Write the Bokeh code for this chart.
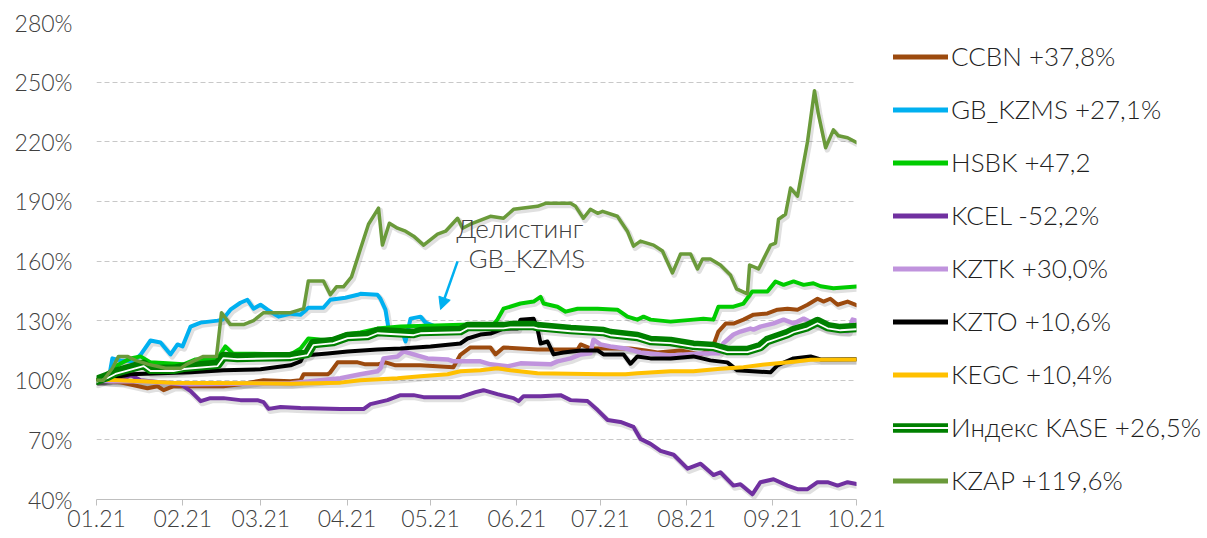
from bokeh.plotting import figure
from bokeh.layouts import row
from bokeh.models import FixedTicker, PrintfTickFormatter, Legend, LegendItem, Arrow, NormalHead
from bokeh.core.properties import value
from bokeh.embed import file_html
from bokeh.resources import INLINE

# ---- axis data -------------------------------------------------------------
month_ticks = [0, 31, 59, 90, 120, 151, 181, 212, 243, 273]   # days since 01.01.2021
month_labels = ["01.21", "02.21", "03.21", "04.21", "05.21", "06.21",
                "07.21", "08.21", "09.21", "10.21"]
y_ticks = [40, 70, 100, 130, 160, 190, 220, 250, 280]

# ---- series (x = days since 01.01.2021, y = % of start) ---------------------
ccbn_days = [0, 8.6, 18.3, 21.9, 24.1, 27.7, 33.8, 45.6, 51.7, 60, 69.7, 73.3, 74.4, 83, 84, 86.6,
             93.8, 96.6, 100.9, 103.8, 107.4, 116.4, 128.2, 130.7, 134.3, 141.5, 143.3, 146.2,
             158.4, 172.8, 173.9, 177.4, 191.8, 197.2, 201.5, 209.8, 217, 221.3, 223.4, 226,
             228.8, 232.4, 236, 241, 244.6, 248.2, 251.8, 255.4, 259, 261.1, 263.6, 266.2, 269.8, 273]
ccbn_vals = [100, 99, 96, 97, 95, 97, 97, 97, 98, 100, 99.5, 100, 103, 103, 104, 109,
             109, 108, 108, 109, 107.5, 107.5, 106.5, 112.8, 116.5, 116.5, 113, 116.5,
             115.5, 115.5, 118, 116, 116, 115, 114, 115, 113, 116.5, 124.5, 128.5,
             128.5, 130.5, 133, 133.6, 135.5, 136, 135.5, 138, 141, 139.6, 141, 138, 139.6, 137.8]

gb_days = [0, 4.3, 5.7, 8.6, 13.3, 15.8, 19.4, 23, 26.6, 29.1, 30.9, 33.8, 37.4, 43.5, 45.3, 48.1,
           51.7, 54.2, 56.4, 58.9, 61.4, 65.4, 69.7, 73.3, 76.1, 81.5, 84, 89.4, 93.8, 94.8,
           100.9, 102, 103.8, 104.9, 106.7, 109.9, 111, 112.8, 116.4, 118.2, 122.8]
gb_vals = [100, 100, 111, 110, 109.5, 112.8, 120, 119, 113, 118, 117, 127, 129, 130, 130.5, 135.5,
           139, 140.5, 136, 138, 135.5, 132, 133.5, 133, 136.5, 136.5, 140.5, 141.5, 143, 143.5,
           143, 141, 135.5, 126, 125.5, 124.5, 119.5, 131, 132, 129, 126.5]

hsbk_days = [0, 4, 6.8, 12.2, 15.8, 19.4, 31.3, 35.6, 43.5, 46.3, 48.9, 69.7, 73.3, 76.1, 84, 89.4,
             94.8, 100.9, 109.2, 134.3, 142.6, 144, 146.2, 152.3, 157, 159.5, 160.6, 165.6, 168.5,
             172.8, 180, 187.1, 190.7, 194.3, 196.5, 199, 206.2, 214.4, 218, 221.6, 223.4, 228.8,
             232.4, 235.6, 241, 243.9, 246.8, 250.4, 254, 257.5, 260.1, 264.7, 273]
hsbk_vals = [100, 101, 107, 111, 112, 109, 108, 110.5, 111, 117, 113.5, 113, 116, 121, 120, 123,
             124, 126, 127, 128, 128, 130.5, 136, 138.6, 139.6, 142, 138.6, 137, 134.5,
             136, 136, 135.5, 132, 130.5, 132, 130.5, 129.5, 130.5, 131, 130.5, 137, 137,
             138.6, 144.7, 144.7, 149.7, 148, 149.7, 148, 148.8, 147.3, 146.3, 147.2]

kcel_days = [0, 9.7, 12.2, 15.8, 30.2, 33.8, 37.4, 40.9, 45.6, 51.7, 57.8, 60, 61.8, 66.1, 73.3,
             87.6, 95.9, 98.4, 104.5, 109.2, 113.9, 117.5, 130.7, 136.1, 139, 144, 149.8, 151.6,
             153.4, 159.5, 166.7, 170.3, 176.4, 180, 183.6, 188.2, 192.9, 195.4, 199, 202.6,
             207.3, 212.3, 217, 221.6, 224.1, 228.8, 231.3, 235.6, 238.5, 243.2, 248.2, 251.8,
             255.4, 259, 262.6, 266.2, 269.8, 273]
kcel_vals = [100, 100.3, 102.7, 100, 98, 94.5, 89.5, 91, 91, 90, 90, 89, 85.6, 86.5, 86,
             85.5, 85.5, 88, 90, 92.5, 92.5, 91.5, 91.5, 94, 95, 93, 91, 89.5,
             92, 92, 92.5, 90, 89.5, 85, 80, 79, 76.5, 70.5, 68, 64.5,
             62.5, 55.5, 58, 52.3, 53.7, 47, 47.7, 42.6, 48.7, 50.2, 47, 45.2,
             45.2, 48.7, 48.7, 47, 48.7, 47.8]

kztk_days = [0, 5, 15.8, 33.8, 69.7, 87.6, 94.8, 100.9, 102, 103.1, 108.1, 110.3, 113.9, 118.9,
             126.1, 128.2, 137.9, 141.5, 147.6, 152.3, 163.1, 165.6, 170.3, 173.9, 177.4, 178.5,
             181, 184.6, 190, 195.4, 206.2, 217, 223.4, 225.2, 228.8, 231.3, 234.9, 236, 238.5,
             243.2, 246.8, 250.4, 254, 257.5, 262.6, 269.8, 271.6, 273]
kztk_vals = [100, 99.5, 99.5, 98, 98.5, 101, 103, 104.5, 106, 111, 112, 114.5, 113, 111,
             110.5, 109.5, 109.5, 108, 107, 108.5, 108, 109.5, 111, 113, 113.6, 120.4,
             118, 117, 116, 114, 112.5, 113.5, 113.6, 118.6, 123, 124.5, 126, 125.5, 127,
             128.6, 130.5, 128.6, 131, 128.6, 126, 124.5, 130.5, 130]

kzto_days = [0, 5, 12.2, 23, 33.8, 45.6, 58.9, 69.7, 73.3, 74.4, 83, 90.2, 100.9, 109.2, 120,
             130.7, 133.3, 137.9, 141.5, 146.2, 151.2, 152.3, 157, 158.4, 159.5, 162, 164.2,
             167.7, 173.9, 180, 182.1, 189.3, 191.8, 194.3, 199, 206.2, 214.4, 220.5, 226.6,
             230.2, 242.1, 244.6, 250.4, 256.5, 260.1, 273]
kzto_vals = [100, 101, 103, 103.5, 104, 105, 105.5, 107.5, 109.5, 112.5, 113.5, 114.5, 115.5, 116, 117,
             118.5, 121, 123, 123.5, 126, 126, 130.5, 131, 126, 118.5, 119.5, 113,
             114, 115, 115, 113, 113, 108.3, 112, 111, 111, 112, 110, 109,
             105, 104, 107.5, 111, 112, 110.5, 110.6]

kegc_days = [0, 4, 15.8, 26.6, 69.7, 87.6, 94.8, 108.1, 116.4, 126.1, 130.7, 137.9, 144, 148.7,
             158.4, 182.1, 190, 194.3, 206.2, 214.4, 224.1, 232.4, 238.5, 250.4, 256.5, 273]
kegc_vals = [100, 100.3, 99.5, 98.8, 98.3, 98.8, 100, 101, 102, 103, 104.5, 105, 106, 105,
             103.5, 103, 103, 103.5, 104.5, 104.5, 105.8, 106.6, 107.7, 109.3, 110.3, 110.4]

kase_days = [0, 4, 6.8, 16.9, 19.4, 27.7, 31.3, 43.5, 45.6, 50.6, 69.7, 75.8, 77.9, 85.1, 90.2,
             97.3, 100.9, 113.9, 116.4, 130.7, 133.3, 146.2, 148.7, 157, 158.4, 170.3, 182.1,
             184.6, 194.3, 199, 206.2, 214.4, 221.6, 226.6, 233.8, 238.5, 241, 248.2, 250.4,
             255.4, 259, 262.6, 267.2, 273]
kase_vals = [100, 102, 104, 108, 105.5, 105.5, 106.5, 108, 112, 111.5, 112, 113.5, 118.5, 119.5, 122,
             122.5, 124.5, 123.5, 124.5, 125, 127, 127, 127.5, 127.5, 127, 125.5, 124.5,
             123.5, 122, 120, 119.5, 117.6, 117, 115, 115, 117, 120, 123.5, 125,
             127, 129.5, 127, 126, 126.5]

kzap_days = [0, 2.5, 5.7, 7.9, 11.1, 14, 18.7, 24.8, 30.2, 32.3, 38.4, 43.1, 44.9, 48.1, 52.8,
             56.4, 60, 69.7, 74.4, 76.1, 81.5, 84, 86.2, 88.7, 91.6, 94.8, 97.7, 101.3, 102.7,
             105.2, 108.1, 111, 113.9, 117.5, 122.5, 125.4, 129.7, 131.5, 134.3, 141.5, 146.2,
             149.8, 158.4, 161.3, 170.3, 172.1, 174.9, 177.4, 180, 181.8, 187.1, 190.7, 192.9,
             195.4, 200.1, 203.3, 206.9, 209.8, 213.4, 215.9, 217.7, 220.5, 224.1, 227.7, 229.9,
             233.8, 234.6, 237.8, 242.1, 243.9, 245, 247.5, 249.3, 251.8, 255.4, 257.9, 259.3,
             261.9, 264.7, 266.5, 269.8, 273]
kzap_vals = [100, 100, 106, 112, 112, 110, 108, 106, 106, 108, 112, 112, 134, 128, 128,
             130, 134, 134, 136, 150, 150, 143, 147, 147, 152, 166, 178.5, 186.6, 168,
             179, 176.5, 175, 172.5, 168, 173.5, 175, 181.5, 176.5, 178.5, 182.5, 181.5,
             186, 187.5, 189, 189, 187.5, 181.5, 186, 184, 185, 182.5, 175, 167.5,
             170, 168, 165, 154, 163.5, 163.5, 156, 161, 161, 158, 153, 146,
             143.5, 158, 156, 168, 169, 181, 183.5, 196.7, 192.6, 220, 245.7, 234,
             217, 226, 223, 222, 219.6]

legend_labels = ["CCBN +37,8%", "GB_KZMS +27,1%", "HSBK +47,2", "KCEL -52,2%", "KZTK +30,0%",
                 "KZTO +10,6%", "KEGC +10,4%", "Индекс KASE +26,5%", "KZAP +119,6%"]

note_lines = ["Делистинг", "GB_KZMS"]
note_x = [129.3, 133.6]
note_y = [176.5, 161.3]
arrow_from = (129.7, 159.8)
arrow_to = (123.6, 135.6)

# ---- styles ---------------------------------------------------------------
FONT = "Lato Light, Lato"
C_CCBN, C_GB, C_HSBK, C_KCEL = "#9C4A0E", "#00B0F0", "#00CC00", "#7030A0"
C_KZTK, C_KZTO, C_KEGC, C_KASE, C_KZAP = "#C093DD", "#000000", "#FFC000", "#008000", "#6A9A3A"

series = [
    (ccbn_days, ccbn_vals, C_CCBN, 4),
    (gb_days, gb_vals, C_GB, 4),
    (hsbk_days, hsbk_vals, C_HSBK, 4),
    (kcel_days, kcel_vals, C_KCEL, 4),
    (kztk_days, kztk_vals, C_KZTK, 4.5),
    (kzto_days, kzto_vals, C_KZTO, 4),
    (kegc_days, kegc_vals, C_KEGC, 4),
    (kase_days, kase_vals, C_KASE, 9.5),
    (kzap_days, kzap_vals, C_KZAP, 3.5),
]
KASE_INDEX = 7
BOTTOM = 39

# ---- main chart -------------------------------------------------------------
p = figure(width=890, height=538, x_range=(0, 273), y_range=(40, 280),
           output_backend="svg", toolbar_location=None,
           min_border_left=96, min_border_right=34, min_border_top=22, min_border_bottom=BOTTOM)
p.outline_line_color = None

p.xgrid.grid_line_color = None
p.ygrid.grid_line_color = "#C8C8C8"
p.ygrid.grid_line_dash = "5 3"
p.ygrid.grid_line_width = 1.2

p.yaxis.ticker = FixedTicker(ticks=y_ticks)
p.yaxis.formatter = PrintfTickFormatter(format="%d%%")
p.yaxis.axis_line_color = None
p.yaxis.major_tick_line_color = None
p.yaxis.minor_tick_line_color = None
p.yaxis.major_tick_out = 0
p.yaxis.major_label_standoff = 24
p.yaxis.major_label_text_font = FONT
p.yaxis.major_label_text_font_size = "23px"
p.yaxis.major_label_text_color = "#404040"

p.xaxis.ticker = FixedTicker(ticks=month_ticks)
p.xaxis.major_label_overrides = {t: l for t, l in zip(month_ticks, month_labels)}
p.xaxis.axis_line_color = "#BFBFBF"
p.xaxis.major_tick_line_color = "#BFBFBF"
p.xaxis.minor_tick_line_color = None
p.xaxis.major_tick_out = 6
p.xaxis.major_tick_in = 0
p.xaxis.major_label_standoff = 4
p.xaxis.major_label_text_font = FONT
p.xaxis.major_label_text_font_size = "23px"
p.xaxis.major_label_text_color = "#404040"

# soft drop shadows
for d, v, c, w in series:
    p.line([x + 0.6 for x in d], [y - 1.1 for y in v], line_color="#000000", line_alpha=0.12,
           line_width=w + 2, line_join="round", line_cap="round")

for i, (d, v, c, w) in enumerate(series):
    p.line(d, v, line_color=c, line_width=w, line_join="round", line_cap="round")
    if i == KASE_INDEX:
        p.line(d, [y - 0.85 for y in v], line_color="white", line_width=1.8,
               line_join="round", line_cap="round")

p.text(x=note_x, y=note_y, text=note_lines, text_align="left", text_baseline="middle",
       text_font=value(FONT), text_font_size="26px", text_color="#404040")

p.add_layout(Arrow(end=NormalHead(size=12, fill_color=C_GB, line_color=C_GB),
                   x_start=arrow_from[0], y_start=arrow_from[1],
                   x_end=arrow_to[0], y_end=arrow_to[1],
                   line_color=C_GB, line_width=2.5))

# ---- legend panel (frame aligned with the chart frame) -----------------------
q = figure(width=317, height=538, x_range=(0, 1), y_range=(0, 1),
           x_axis_location=None, y_axis_location=None,
           output_backend="svg", toolbar_location=None,
           min_border_left=0, min_border_right=0, min_border_top=22, min_border_bottom=BOTTOM)
q.grid.visible = False
q.outline_line_color = None

items = []
for i, ((d, v, c, w), lab) in enumerate(zip(series, legend_labels)):
    lw = 5 if i != KASE_INDEX else 9.5
    # off-range sample lines: only their legend swatches are visible
    rs = [q.line([5, 6], [5, 5], line_color=c, line_width=lw, line_cap="round")]
    if i == KASE_INDEX:
        rs.append(q.line([5, 6], [5, 5], line_color="white", line_width=1.8, line_cap="round"))
    items.append(LegendItem(label=lab, renderers=rs))

legend = Legend(items=items, location=(3, 3), orientation="vertical",
                glyph_width=55, glyph_height=31, label_height=31, spacing=21,
                label_standoff=3, padding=0, margin=0,
                border_line_color=None, background_fill_alpha=0,
                label_text_font=FONT, label_text_font_size="26px", label_text_color="#1F1F1F")
q.add_layout(legend)

layout = row(p, q)
open("out.html", "w").write(file_html(layout, INLINE))
